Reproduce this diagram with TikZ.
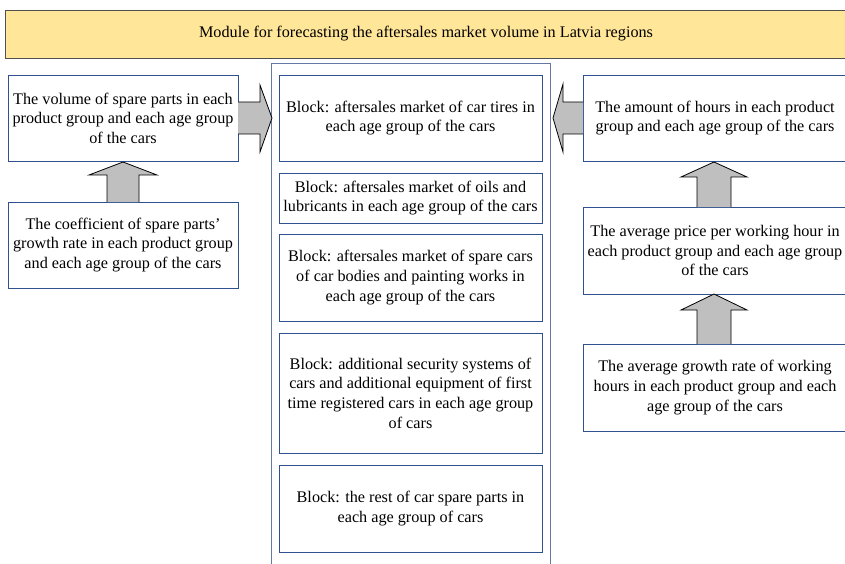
\documentclass[tikz,border=0pt]{standalone}
\usepackage{fontspec}
\setmainfont{Liberation Serif}
\definecolor{boxblue}{RGB}{47,82,143}
\definecolor{frameblue}{RGB}{100,122,165}
\definecolor{titlefill}{RGB}{255,230,153}
\definecolor{titleline}{RGB}{80,80,80}
\definecolor{arrowfill}{RGB}{191,191,191}
\tikzset{
  txt/.style={font=\fontsize{16.2}{19.6}\selectfont, align=center, inner sep=0pt},
  infobox/.style={draw=boxblue, line width=0.8pt, fill=white, rectangle, txt},
  titlebox/.style={draw=titleline, line width=0.8pt, fill=titlefill, rectangle, txt},
  blockarrow/.style={draw=black, line width=0.8pt, fill=arrowfill, line join=miter},
  framebox/.style={draw=frameblue, line width=1pt}
}
\begin{document}
\begin{tikzpicture}[x=1pt,y=-1pt]
\useasboundingbox (0,0) rectangle (845,564);
% title
\node[titlebox, minimum width=842pt, minimum height=48pt] (title) at (426,34)
  {Module for forecasting the aftersales market volume in Latvia regions};
% central frame
\draw[framebox] (271,570) -- (271,64) -- (550,64) -- (550,570);
% left boxes
\node[infobox, minimum width=230pt, minimum height=86pt] (lv) at (123,118)
  {The volume of spare parts in each\\product group and each age group\\of the cars};
\node[infobox, minimum width=230pt, minimum height=86pt] (lc) at (123,245)
  {The coefficient of spare parts'\\growth rate in each product group\\and each age group of the cars};
% central blocks
\node[infobox, minimum width=263pt, minimum height=86pt] (b1) at (410.5,118)
  {Block: aftersales market of car tires in\\each age group of the cars};
\node[infobox, minimum width=263pt, minimum height=50pt] (b2) at (410.5,198)
  {Block: aftersales market of oils and\\lubricants in each age group of the cars};
\node[infobox, minimum width=263pt, minimum height=87pt] (b3) at (410.5,277.5)
  {Block: aftersales market of spare cars\\of car bodies and painting works in\\each age group of the cars};
\node[infobox, minimum width=263pt, minimum height=120pt] (b4) at (410.5,393)
  {Block: additional security systems of\\cars and additional equipment of first\\time registered cars in each age group\\of cars};
\node[infobox, minimum width=263pt, minimum height=87pt] (b5) at (410.5,508.5)
  {Block: the rest of car spare parts in\\each age group of cars};
% right boxes
\node[infobox, minimum width=264pt, minimum height=86pt] (rh) at (715,118)
  {The amount of hours in each product\\group and each age group of the cars};
\node[infobox, minimum width=264pt, minimum height=87pt] (rp) at (715,250.5)
  {The average price per working hour in\\each product group and each age group\\of the cars};
\node[infobox, minimum width=264pt, minimum height=87pt] (rg) at (715,387.5)
  {The average growth rate of working\\hours in each product group and each\\age group of the cars};
% block arrows
\draw[blockarrow] (107,202) -- (107,175) -- (89,175) -- (123,162) -- (157,175) -- (139,175) -- (139,202);
\draw[blockarrow] (238,102) -- (260,102) -- (260,85) -- (272,118) -- (260,152) -- (260,134) -- (238,134);
\draw[blockarrow] (583,102) -- (563,102) -- (563,84) -- (553,118) -- (563,152) -- (563,134) -- (583,134);
\draw[blockarrow] (697,207) -- (697,177) -- (681,177) -- (714,162) -- (747,177) -- (731,177) -- (731,207);
\draw[blockarrow] (697,344) -- (697,310) -- (681,310) -- (714,294) -- (747,310) -- (731,310) -- (731,344);
\end{tikzpicture}
\end{document}
